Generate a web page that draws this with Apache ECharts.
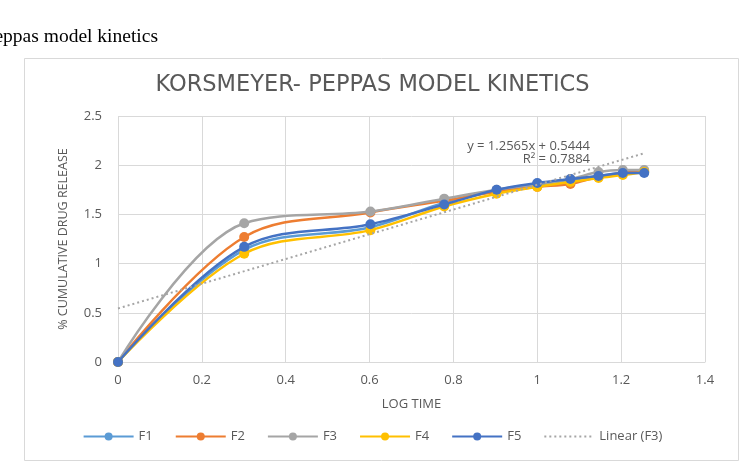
<!DOCTYPE html>
<html>
<head>
<meta charset="utf-8">
<script src="https://cdn.jsdelivr.net/npm/echarts@6/dist/echarts.min.js"></script>
<style>
  html, body { margin: 0; padding: 0; background: #fff; }
  #main { width: 745px; height: 470px; }
</style>
</head>
<body>
<div id="main"></div>
<script>
// log time values and % cumulative drug release per formulation
var logTime = [0, 0.301, 0.602, 0.778, 0.903, 1.0, 1.079, 1.146, 1.204, 1.255];
var F1 = [0, 1.14, 1.37, 1.62, 1.74, 1.80, 1.85, 1.89, 1.92, 1.93];
var F2 = [0, 1.27, 1.52, 1.64, 1.73, 1.78, 1.81, 1.88, 1.92, 1.94];
var F3 = [0, 1.41, 1.53, 1.66, 1.75, 1.81, 1.86, 1.93, 1.95, 1.95];
var F4 = [0, 1.10, 1.34, 1.58, 1.71, 1.78, 1.83, 1.87, 1.90, 1.93];
var F5 = [0, 1.17, 1.40, 1.60, 1.75, 1.82, 1.86, 1.89, 1.92, 1.92];
var names = ['F1', 'F2', 'F3', 'F4', 'F5'];
var colors = ['#5B9BD5', '#ED7D31', '#A5A5A5', '#FFC000', '#4472C4'];
// trendline of F3 from the chart's equation
var slope = 1.2565, intercept = 0.5444;
var trendX = [0, 1.255];

var myChart = echarts.init(document.getElementById('main'));
var font = '"Open Sans", Lato, sans-serif';

function pairs(ys) {
    return logTime.map(function (x, i) { return [x, ys[i]]; });
}

var seriesList = [F1, F2, F3, F4, F5].map(function (ys, i) {
    return {
        name: names[i],
        type: 'line',
        smooth: 0.35,
        data: pairs(ys),
        symbol: 'circle',
        symbolSize: 10,
        color: colors[i],
        lineStyle: { width: 2.5 },
        z: 2 + i
    };
});
seriesList.push({
    name: 'Linear (F3)',
    type: 'line',
    data: trendX.map(function (x) { return [x, slope * x + intercept]; }),
    symbol: 'none',
    itemStyle: { color: 'rgba(0,0,0,0)' },
    lineStyle: { color: '#A5A5A5', width: 2, type: [2, 3] },
    z: 10
});

var option = {
    animation: false,
    backgroundColor: '#fff',
    title: {
        text: 'KORSMEYER- PEPPAS MODEL KINETICS',
        left: 'center',
        top: 69,
        textStyle: { fontFamily: '"DejaVu Sans", sans-serif', fontSize: 22.5, fontWeight: 'normal', color: '#595959' }
    },
    graphic: [
        {
            type: 'rect', shape: { x: 24.5, y: 58.5, width: 714, height: 402 },
            style: { fill: 'none', stroke: '#d9d9d9', lineWidth: 1 }, z: -1
        },
        {
            type: 'text', x: 158, y: 27,
            style: { text: 'Peppas model kinetics', align: 'right', fill: '#000',
                     font: '19.5px "Liberation Serif", serif' }
        },
        {
            type: 'text', x: 590, y: 140,
            style: { text: 'y = 1.2565x + 0.5444', align: 'right', fill: '#595959', font: '13px ' + font }
        },
        {
            type: 'text', x: 590, y: 153,
            style: { text: 'R² = 0.7884', align: 'right', fill: '#595959', font: '13px ' + font }
        }
    ],
    legend: {
        bottom: 22,
        left: 'center',
        itemWidth: 50,
        itemHeight: 10,
        itemGap: 22,
        data: names.concat(['Linear (F3)']),
        textStyle: { fontFamily: font, fontSize: 13, color: '#595959' }
    },
    grid: { left: 118, right: 40, top: 116, bottom: 108 },
    xAxis: {
        type: 'value',
        min: 0, max: 1.4, interval: 0.2,
        name: 'LOG TIME',
        nameLocation: 'middle',
        nameGap: 36,
        nameTextStyle: { fontFamily: font, fontSize: 13, color: '#595959' },
        axisLine: { lineStyle: { color: '#d9d9d9' } },
        axisTick: { show: false },
        axisLabel: { fontFamily: font, fontSize: 13, color: '#595959', margin: 12 },
        splitLine: { show: true, lineStyle: { color: '#d9d9d9' } }
    },
    yAxis: {
        type: 'value',
        min: 0, max: 2.5, interval: 0.5,
        name: '% CUMULATIVE DRUG RELEASE',
        nameLocation: 'middle',
        nameGap: 48,
        nameTextStyle: { fontFamily: font, fontSize: 12.5, color: '#595959' },
        axisLine: { show: false },
        axisTick: { show: false },
        axisLabel: { fontFamily: font, fontSize: 13, color: '#595959', margin: 16 },
        splitLine: { show: true, lineStyle: { color: '#d9d9d9' } }
    },
    series: seriesList
};
myChart.setOption(option);
</script>
</body>
</html>
